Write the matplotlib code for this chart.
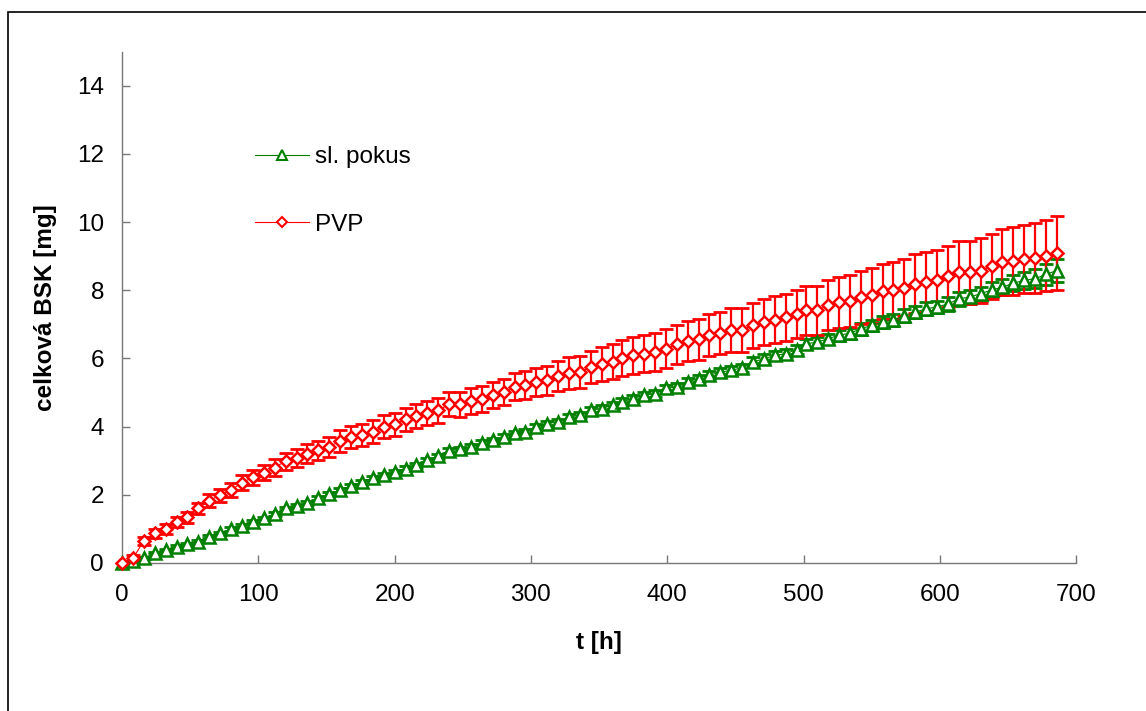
import matplotlib
matplotlib.use('Agg')
import matplotlib.pyplot as plt
from matplotlib.patches import Rectangle

plt.rcParams['font.family'] = ['Liberation Sans', 'DejaVu Sans']

# čas odběru [h]
t = [0, 8, 16, 24, 32, 40, 48, 56, 64, 72,
     80, 88, 96, 104, 112, 120, 128, 136, 144, 152,
     160, 168, 176, 184, 192, 200, 208, 216, 224, 232,
     240, 248, 256, 264, 272, 280, 288, 296, 304, 312,
     320, 328, 336, 344, 352, 360, 367, 375, 383, 391,
     399, 407, 415, 423, 431, 439, 447, 455, 463, 471,
     479, 487, 495, 502, 510, 518, 526, 534, 542, 550,
     558, 566, 574, 582, 590, 598, 606, 614, 622, 630,
     638, 646, 654, 662, 670, 678, 686]

# slepý pokus - celková BSK [mg] a směrodatná odchylka
slepy = [0, 0.05, 0.14, 0.28, 0.38, 0.48, 0.56, 0.62, 0.77, 0.87,
         1.0, 1.09, 1.21, 1.31, 1.44, 1.6, 1.67, 1.75, 1.9, 2.03,
         2.14, 2.26, 2.38, 2.48, 2.58, 2.67, 2.77, 2.87, 3.02, 3.13,
         3.29, 3.33, 3.41, 3.52, 3.6, 3.7, 3.8, 3.85, 3.99, 4.09,
         4.14, 4.27, 4.34, 4.48, 4.53, 4.63, 4.73, 4.82, 4.92, 4.97,
         5.12, 5.17, 5.31, 5.41, 5.51, 5.6, 5.65, 5.73, 5.9, 5.99,
         6.09, 6.14, 6.26, 6.43, 6.48, 6.58, 6.68, 6.74, 6.87, 6.97,
         7.07, 7.12, 7.26, 7.36, 7.46, 7.51, 7.6, 7.75, 7.8, 7.9,
         8.01, 8.09, 8.21, 8.29, 8.34, 8.47, 8.58]
slepy_sd = [0, 0.02, 0.03, 0.03, 0.03, 0.04, 0.04, 0.04, 0.04, 0.04,
            0.05, 0.05, 0.05, 0.05, 0.05, 0.05, 0.05, 0.06, 0.06, 0.06,
            0.06, 0.06, 0.06, 0.06, 0.06, 0.07, 0.07, 0.07, 0.07, 0.07,
            0.07, 0.07, 0.07, 0.08, 0.08, 0.08, 0.08, 0.08, 0.08, 0.08,
            0.09, 0.09, 0.09, 0.09, 0.09, 0.1, 0.1, 0.1, 0.1, 0.1,
            0.11, 0.11, 0.11, 0.11, 0.12, 0.12, 0.12, 0.12, 0.13, 0.13,
            0.13, 0.14, 0.14, 0.14, 0.15, 0.15, 0.16, 0.16, 0.17, 0.17,
            0.17, 0.18, 0.18, 0.18, 0.19, 0.19, 0.2, 0.2, 0.21, 0.21,
            0.22, 0.23, 0.24, 0.26, 0.28, 0.31, 0.35]

# PVP - celková BSK [mg] a směrodatná odchylka
pvp = [0, 0.14, 0.65, 0.87, 1.0, 1.21, 1.34, 1.6, 1.83, 1.99,
       2.14, 2.36, 2.51, 2.65, 2.8, 2.99, 3.08, 3.21, 3.31, 3.41,
       3.58, 3.7, 3.75, 3.85, 4.0, 4.07, 4.21, 4.31, 4.4, 4.48,
       4.66, 4.66, 4.75, 4.82, 4.92, 5.02, 5.17, 5.21, 5.31, 5.36,
       5.48, 5.57, 5.6, 5.75, 5.83, 5.9, 6.02, 6.09, 6.14, 6.19,
       6.29, 6.41, 6.51, 6.56, 6.68, 6.75, 6.84, 6.84, 6.97, 7.07,
       7.14, 7.21, 7.31, 7.41, 7.41, 7.56, 7.65, 7.68, 7.8, 7.85,
       7.97, 8.0, 8.08, 8.19, 8.24, 8.29, 8.41, 8.53, 8.53, 8.58,
       8.7, 8.83, 8.86, 8.92, 8.95, 9.02, 9.09]
pvp_sd = [0.0, 0.08, 0.12, 0.13, 0.14, 0.15, 0.16, 0.17, 0.18, 0.19,
          0.2, 0.21, 0.22, 0.23, 0.24, 0.25, 0.26, 0.27, 0.28, 0.3,
          0.31, 0.32, 0.32, 0.33, 0.33, 0.34, 0.34, 0.35, 0.35, 0.36,
          0.36, 0.37, 0.37, 0.38, 0.38, 0.39, 0.4, 0.41, 0.42, 0.43,
          0.44, 0.46, 0.47, 0.48, 0.5, 0.51, 0.53, 0.54, 0.55, 0.56,
          0.57, 0.58, 0.59, 0.6, 0.61, 0.62, 0.64, 0.65, 0.66, 0.67,
          0.68, 0.69, 0.7, 0.71, 0.72, 0.73, 0.75, 0.77, 0.78, 0.8,
          0.81, 0.83, 0.84, 0.86, 0.87, 0.89, 0.9, 0.92, 0.93, 0.95,
          0.96, 0.98, 0.99, 1.01, 1.03, 1.05, 1.08]

zelena = '#008000'
cervena = '#ff0000'
fs = 17.5

fig = plt.figure(figsize=(11.46, 7.11), dpi=100)
ax = fig.add_axes([0.1065, 0.2082, 0.8325, 0.7191])

# chybové úsečky
ax.errorbar(t, slepy, yerr=slepy_sd, fmt='none', ecolor=zelena, elinewidth=1.6,
            capsize=5, capthick=2, zorder=2)
ax.errorbar(t, pvp, yerr=pvp_sd, fmt='none', ecolor=cervena, elinewidth=1.6,
            capsize=5, capthick=2, zorder=2)

# průběhy
ax.plot(t, slepy, color=zelena, lw=0.8, marker='^', ms=8.5, mfc='white',
        mec=zelena, mew=1.8, label='sl. pokus', zorder=3, clip_on=False)
ax.plot(t, pvp, color=cervena, lw=0.8, marker='D', ms=6.3, mfc='white',
        mec=cervena, mew=1.8, label='PVP', zorder=4, clip_on=False)

ax.set_xlim(0, 700)
ax.set_ylim(0, 15)
ax.set_xticks(range(0, 701, 100))
ax.set_yticks(range(0, 15, 2))

for s in ['top', 'right']:
    ax.spines[s].set_visible(False)
for s in ['left', 'bottom']:
    ax.spines[s].set_color('#777777')
    ax.spines[s].set_linewidth(1.0)

ax.tick_params(axis='both', direction='in', length=6, width=1.0,
               color='#777777', labelsize=fs)
ax.tick_params(axis='x', pad=15)
ax.tick_params(axis='y', pad=13)

ax.set_xlabel('t [h]', fontsize=fs, fontweight='bold', va='center')
ax.xaxis.set_label_coords(0.5, -0.1565)
ax.set_ylabel('celková BSK [mg]', fontsize=fs, fontweight='bold', va='center')
ax.yaxis.set_label_coords(-0.0807, 0.5)

# legenda bez rámečku, s jedním bodem na čáře
leg = ax.legend(loc='upper left', bbox_to_anchor=(0.1394, 0.815), frameon=False,
                fontsize=fs, numpoints=1, handlelength=2.2, handletextpad=0.25,
                borderpad=0, borderaxespad=0, labelspacing=1.86)
for h in leg.legend_handles:
    h.set_markersize(h.get_markersize() * 0.85)
    h.set_markeredgewidth(1.5)

# rámeček kolem celého grafu
fig.patches.append(Rectangle((8 / 1146, -0.05), 1.2, 0.05 + (711 - 12) / 711,
                             transform=fig.transFigure, fill=False,
                             edgecolor='black', linewidth=1.2))

fig.savefig('out.png', dpi=100)
